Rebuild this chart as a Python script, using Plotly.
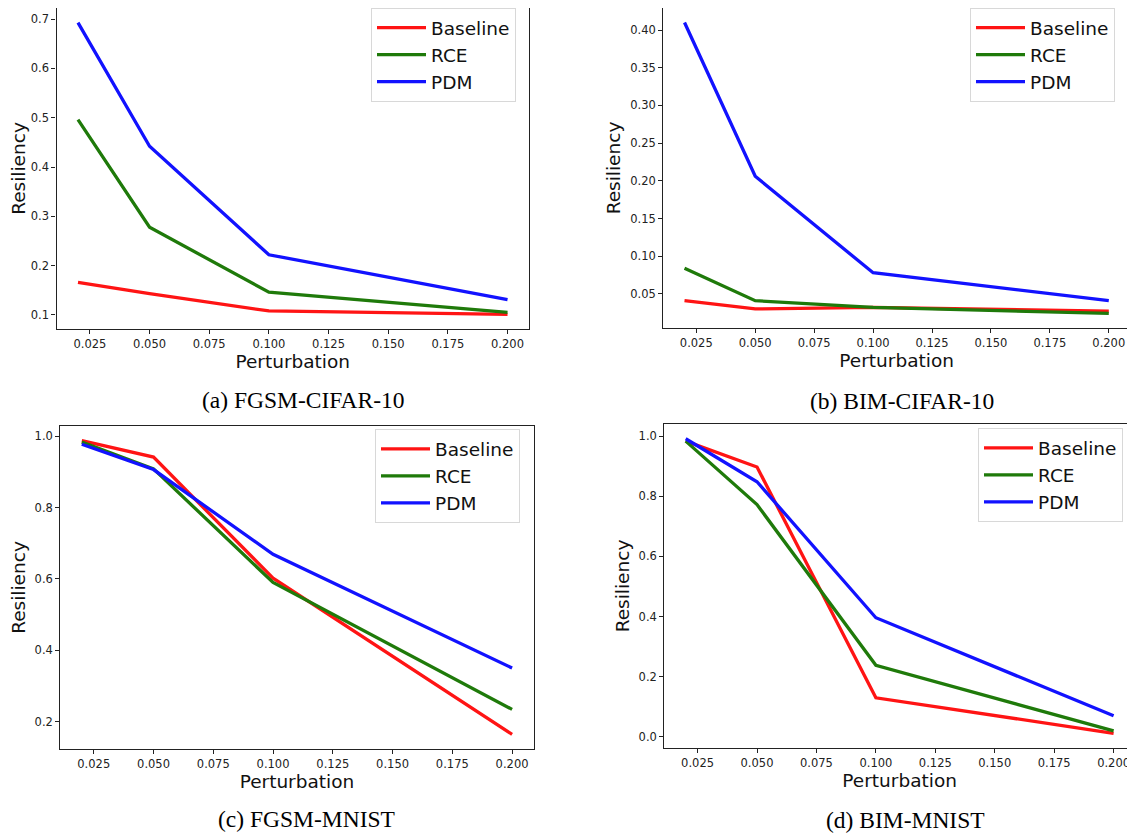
import plotly.graph_objects as go

# page body has an 8px default margin; compensate so the figure lands where the reference does
OX, OY = 8, 8
W, H = 1135 - OX, 835 - OY

perturbation = [0.02, 0.05, 0.1, 0.2]
methods = ["Baseline", "RCE", "PDM"]
colors = ["#ff1414", "#1f7a0a", "#1212ff"]

fgsm_cifar_baseline = [0.166, 0.143, 0.108, 0.101]
fgsm_cifar_rce = [0.496, 0.278, 0.146, 0.105]
fgsm_cifar_pdm = [0.693, 0.442, 0.222, 0.131]

bim_cifar_baseline = [0.041, 0.030, 0.032, 0.027]
bim_cifar_rce = [0.084, 0.041, 0.032, 0.024]
bim_cifar_pdm = [0.410, 0.206, 0.078, 0.041]

fgsm_mnist_baseline = [0.988, 0.942, 0.602, 0.164]
fgsm_mnist_rce = [0.984, 0.909, 0.590, 0.234]
fgsm_mnist_pdm = [0.978, 0.907, 0.669, 0.350]

bim_mnist_baseline = [0.983, 0.897, 0.130, 0.012]
bim_mnist_rce = [0.983, 0.772, 0.238, 0.020]
bim_mnist_pdm = [0.991, 0.848, 0.396, 0.070]

captions = ["(a) FGSM-CIFAR-10", "(b) BIM-CIFAR-10", "(c) FGSM-MNIST", "(d) BIM-MNIST"]
x_tick_vals = [0.025, 0.05, 0.075, 0.1, 0.125, 0.15, 0.175, 0.2]
x_tick_text = ["0.025", "0.050", "0.075", "0.100", "0.125", "0.150", "0.175", "0.200"]
y_ticks_a = [0.1, 0.2, 0.3, 0.4, 0.5, 0.6, 0.7]
y_ticks_b = [0.05, 0.10, 0.15, 0.20, 0.25, 0.30, 0.35, 0.40]
y_ticks_c = [0.2, 0.4, 0.6, 0.8, 1.0]
y_ticks_d = [0.0, 0.2, 0.4, 0.6, 0.8, 1.0]

panels = [
    dict(series=[fgsm_cifar_baseline, fgsm_cifar_rce, fgsm_cifar_pdm], yticks=y_ticks_a, yfmt="{:.1f}",
         box=(56.5, 529, 4, 329), legend=(371, 8), caption=(303.6, 400)),
    dict(series=[bim_cifar_baseline, bim_cifar_rce, bim_cifar_pdm], yticks=y_ticks_b, yfmt="{:.2f}",
         box=(663.3, 1130, 4, 328), legend=(970, 7.7), caption=(901.5, 400.7)),
    dict(series=[fgsm_mnist_baseline, fgsm_mnist_rce, fgsm_mnist_pdm], yticks=y_ticks_c, yfmt="{:.1f}",
         box=(60.3, 533.6, 426, 749), legend=(375, 429.3), caption=(306, 819)),
    dict(series=[bim_mnist_baseline, bim_mnist_rce, bim_mnist_pdm], yticks=y_ticks_d, yfmt="{:.1f}",
         box=(664.3, 1135, 424, 748), legend=(978, 428.3), caption=(905, 820)),
]


def px(xp):
    return (xp - OX) / W


def py(yp):
    return 1 - (yp - OY) / H


fig = go.Figure()
layout = dict(
    width=W, height=H,
    margin=dict(l=0, r=0, t=0, b=0),
    paper_bgcolor="white", plot_bgcolor="white",
    font=dict(family="DejaVu Sans", color="#222"),
    annotations=[],
)

xpad = 0.05 * (max(perturbation) - min(perturbation))
xrange = [min(perturbation) - xpad, max(perturbation) + xpad]

for i, p in enumerate(panels):
    k = "" if i == 0 else str(i + 1)
    lg = "legend" + k
    allv = [v for s in p["series"] for v in s]
    ypad = 0.05 * (max(allv) - min(allv))
    yrange = [min(allv) - ypad, max(allv) + ypad]
    for name, col, vals in zip(methods, colors, p["series"]):
        fig.add_trace(go.Scatter(
            x=perturbation, y=vals, name=name, mode="lines",
            line=dict(color=col, width=3.3),
            xaxis="x" + k, yaxis="y" + k, legend=lg,
        ))
    x0, x1, yt, yb = p["box"]
    axis_common = dict(
        showline=True, linecolor="#222", linewidth=1.2, mirror=True,
        ticks="outside", ticklen=4, tickwidth=1, tickcolor="#222",
        showgrid=False, zeroline=False,
        tickfont=dict(family="DejaVu Sans", size=11.5, color="#222"),
    )
    layout["xaxis" + k] = dict(
        axis_common,
        domain=[max(0.0, px(x0)), min(1.0, px(x1))],
        range=xrange,
        anchor="y" + k,
        tickvals=x_tick_vals, ticktext=x_tick_text,
        title=dict(text="Perturbation", font=dict(family="DejaVu Sans", size=18.5, color="#111"), standoff=3),
        automargin=False,
    )
    layout["yaxis" + k] = dict(
        axis_common,
        domain=[py(yb), min(1.0, py(yt))],
        range=yrange,
        anchor="x" + k,
        tickvals=p["yticks"], ticktext=[p["yfmt"].format(v) for v in p["yticks"]],
        title=dict(text="Resiliency", font=dict(family="DejaVu Sans", size=18.5, color="#111"), standoff=4),
        automargin=False,
    )
    lx, ly = p["legend"]
    layout[lg] = dict(
        x=px(lx), y=py(ly), xanchor="left", yanchor="top",
        xref="paper", yref="paper",
        bgcolor="rgba(255,255,255,0.85)", bordercolor="#d8d8d8", borderwidth=1,
        font=dict(family="DejaVu Sans", size=18.5, color="#111"),
        tracegroupgap=0, itemwidth=49,
    )
    cx, cy = p["caption"]
    layout["annotations"].append(dict(
        text=captions[i], x=px(cx), y=py(cy), xref="paper", yref="paper",
        xanchor="center", yanchor="middle", showarrow=False,
        font=dict(family="Liberation Serif", size=23.5, color="#000"),
    ))

fig.update_layout(**layout)
fig.write_html("out.html")
